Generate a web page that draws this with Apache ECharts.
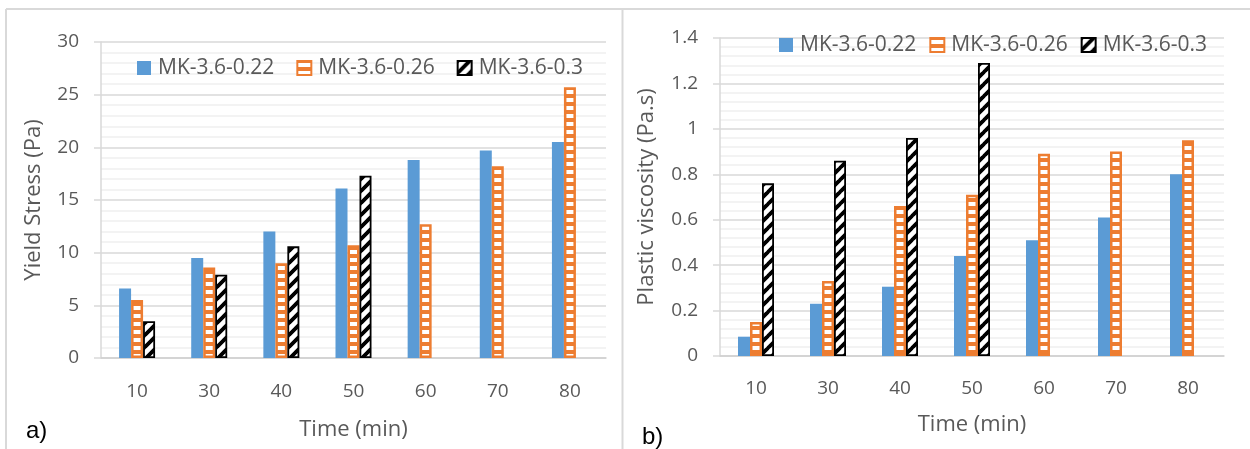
<!DOCTYPE html>
<html>
<head>
<meta charset="utf-8">
<script src="https://cdn.jsdelivr.net/npm/echarts@6/dist/echarts.min.js"></script>
<style>
html,body{margin:0;padding:0;background:#fff;}
#c{width:1250px;height:449px;}
</style>
</head>
<body>
<div id="c"></div>
<script>
// ---- data ----
var categories = ['10', '30', '40', '50', '60', '70', '80'];
var seriesNames = ['MK-3.6-0.22', 'MK-3.6-0.26', 'MK-3.6-0.3'];
// a) Yield stress (Pa)
var yield022 = [6.6, 9.5, 12.0, 16.1, 18.8, 19.7, 20.5];
var yield026 = [5.5, 8.6, 9.0, 10.7, 12.7, 18.2, 25.7];
var yield03  = [3.5, 7.9, 10.6, 17.3, null, null, null];
// b) Plastic viscosity (Pa.s)
var visc022 = [0.085, 0.23, 0.305, 0.44, 0.51, 0.61, 0.80];
var visc026 = [0.15, 0.33, 0.66, 0.71, 0.89, 0.90, 0.95];
var visc03  = [0.76, 0.86, 0.96, 1.29, null, null, null];

// ---- patterns ----
var BLUE = '#5b9bd5', ORANGE = '#ed7d31';
function stripePattern() {
  var c = document.createElement('canvas');
  c.width = 8; c.height = 8;
  var g = c.getContext('2d');
  g.fillStyle = ORANGE; g.fillRect(0, 0, 8, 8);
  g.fillStyle = '#ffffff'; g.fillRect(0, 2, 8, 4);
  return c;
}
function diagPattern() {
  var s = 12;
  var c = document.createElement('canvas');
  c.width = s; c.height = s;
  var g = c.getContext('2d');
  g.fillStyle = '#ffffff'; g.fillRect(0, 0, s, s);
  g.strokeStyle = '#000000'; g.lineWidth = 3.6;
  [-s, 0, s].forEach(function (o) {
    g.beginPath(); g.moveTo(o, s); g.lineTo(o + s, 0); g.stroke();
    g.beginPath(); g.moveTo(o - s, s + s); g.lineTo(o + 2 * s, -s); g.stroke();
  });
  return c;
}
var orangeFill = { image: stripePattern(), repeat: 'repeat' };
var blackFill = { image: diagPattern(), repeat: 'repeat' };

var FONT = 'Open Sans';
var TXT = '#595959';
var MAJOR = '#d9d9d9', MINOR = '#f0f0f0';

function yAxis(grid, max, interval, name, nameGap) {
  return {
    type: 'value', gridIndex: grid, min: 0, max: max, interval: interval,
    name: name, nameLocation: 'middle', nameGap: nameGap,
    nameTextStyle: { fontFamily: FONT, fontSize: 22, color: TXT },
    axisLine: { show: true, lineStyle: { color: MAJOR, width: 1.5 } },
    axisTick: { show: true, length: 7, lineStyle: { color: MAJOR, width: 1.5 } },
    axisLabel: { fontFamily: FONT, fontSize: 19, color: TXT, margin: 22 },
    splitLine: { show: true, lineStyle: { color: MAJOR, width: 1.5 } },
    minorTick: { show: false, splitNumber: 5 },
    minorSplitLine: { show: true, lineStyle: { color: MINOR, width: 1.5 } }
  };
}
function xAxis(grid, nameGap, labelMargin) {
  return {
    type: 'category', gridIndex: grid, data: categories,
    name: 'Time (min)', nameLocation: 'middle', nameGap: nameGap,
    nameTextStyle: { fontFamily: FONT, fontSize: 22, color: TXT },
    axisLine: { show: true, lineStyle: { color: '#cfcfcf', width: 1.5 } },
    axisTick: { show: false },
    axisLabel: { fontFamily: FONT, fontSize: 19, color: TXT, margin: labelMargin }
  };
}
function bars(grid, d1, d2, d3) {
  var common = { type: 'bar', xAxisIndex: grid, yAxisIndex: grid, barWidth: 12, barGap: '0%' };
  return [
    Object.assign({ name: seriesNames[0], data: d1, itemStyle: { color: BLUE } }, common),
    Object.assign({ name: seriesNames[1], data: d2, itemStyle: { color: orangeFill, borderColor: ORANGE, borderWidth: 2.5 } }, common),
    Object.assign({ name: seriesNames[2], data: d3, itemStyle: { color: blackFill, borderColor: '#000', borderWidth: 1.8 } }, common)
  ];
}
function legend(left, top, gap) {
  return {
    left: left, top: top, padding: 0, itemGap: gap, icon: 'rect',
    itemWidth: 14, itemHeight: 14,
    textStyle: { fontFamily: FONT, fontSize: 21, color: TXT, lineHeight: 22, padding: [0, 0, 0, 2] },
    data: seriesNames
  };
}

var chart = echarts.init(document.getElementById('c'), null, { renderer: 'canvas' });
chart.setOption({
  animation: false,
  backgroundColor: '#fff',
  grid: [
    { left: 101, top: 42, width: 505, height: 316 },
    { left: 720, top: 38, width: 504, height: 318 }
  ],
  legend: [legend(137, 57, 22), legend(779, 34, 13)],
  xAxis: [xAxis(0, 61, 24), xAxis(1, 58, 23)],
  yAxis: [
    yAxis(0, 30, 5, 'Yield Stress (Pa)', 56),
    yAxis(1, 1.4, 0.2, 'Plastic viscosity (Pa.s)', 62)
  ],
  series: bars(0, yield022, yield026, yield03).concat(bars(1, visc022, visc026, visc03)),
  graphic: [
    { type: 'line', shape: { x1: 6, y1: 9, x2: 1250, y2: 9 }, style: { stroke: MAJOR, lineWidth: 2 } },
    { type: 'line', shape: { x1: 6, y1: 9, x2: 6, y2: 449 }, style: { stroke: MAJOR, lineWidth: 2 } },
    { type: 'line', shape: { x1: 622.5, y1: 9, x2: 622.5, y2: 449 }, style: { stroke: MAJOR, lineWidth: 2 } },
    { type: 'text', left: 26, top: 419, style: { text: 'a)', font: '24px "Liberation Sans"', fill: '#000' } },
    { type: 'text', left: 642, top: 425, style: { text: 'b)', font: '24px "Liberation Sans"', fill: '#000' } }
  ]
});
</script>
</body>
</html>
